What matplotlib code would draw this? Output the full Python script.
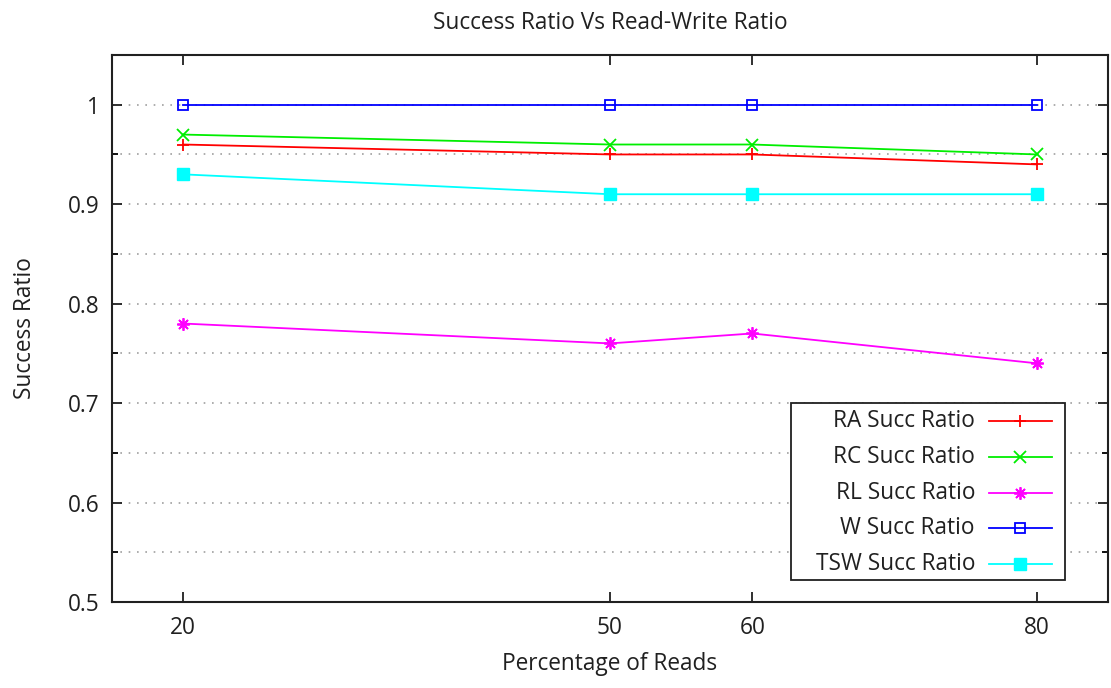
import matplotlib
matplotlib.use("Agg")
import matplotlib.pyplot as plt
from matplotlib.patches import Rectangle
from matplotlib.lines import Line2D
from matplotlib.ticker import MultipleLocator

plt.rcParams['font.family'] = ['Open Sans', 'DejaVu Sans']

reads = [20, 50, 60, 80]
ra_succ = [0.96, 0.95, 0.95, 0.94]
rc_succ = [0.97, 0.96, 0.96, 0.95]
rl_succ = [0.78, 0.76, 0.77, 0.74]
w_succ = [1.0, 1.0, 1.0, 1.0]
tsw_succ = [0.93, 0.91, 0.91, 0.91]

labels = ["RA Succ Ratio", "RC Succ Ratio", "RL Succ Ratio", "W Succ Ratio", "TSW Succ Ratio"]
series = [ra_succ, rc_succ, rl_succ, w_succ, tsw_succ]
styles = [
    dict(color="#ff0000", marker="+", markersize=9, markeredgewidth=1.3, markerfacecolor="none"),
    dict(color="#00ee00", marker="x", markersize=8, markeredgewidth=1.3, markerfacecolor="none"),
    dict(color="#ff00ff", marker=(8, 2, 0), markersize=9, markeredgewidth=1.3, markerfacecolor="none"),
    dict(color="#0000ff", marker="s", markersize=7.5, markeredgewidth=1.3, markerfacecolor="none"),
    dict(color="#00ffff", marker="s", markersize=8, markeredgewidth=1.0, markerfacecolor="#00ffff"),
]

FS = 16.3
TXT = "#202020"

fig = plt.figure(figsize=(11.11, 6.88), dpi=100)
ax = fig.add_axes([112 / 1111, 1 - 602 / 688, 996 / 1111, 547 / 688])

for vals, st in zip(series, styles):
    ax.plot(reads, vals, linewidth=1.3, zorder=3, **st)

ax.set_xlim(15, 85)
ax.set_ylim(0.5, 1.05)
ax.set_xticks(reads)
ax.yaxis.set_major_locator(MultipleLocator(0.1))
ax.yaxis.set_minor_locator(MultipleLocator(0.05))
ax.set_yticks([0.5, 0.6, 0.7, 0.8, 0.9, 1.0])
ax.set_yticklabels(["0.5", "0.6", "0.7", "0.8", "0.9", "1"])

ax.grid(True, axis="y", which="both", linestyle=(0, (1, 4)), color="#a0a0a0", linewidth=1.2, zorder=1)
ax.tick_params(axis="both", which="major", direction="in", length=7, width=1.3,
               top=True, right=True, labelsize=FS, colors=TXT)
ax.tick_params(axis="x", which="major", pad=10)
ax.tick_params(axis="y", which="major", pad=9)
ax.tick_params(axis="y", which="minor", direction="in", length=4, width=1.3, right=True)
for s in ax.spines.values():
    s.set_linewidth(1.5)
    s.set_color(TXT)

ax.set_title("Success Ratio Vs Read-Write Ratio", fontsize=FS, pad=19, color=TXT)
ax.set_xlabel("Percentage of Reads", fontsize=FS, labelpad=9, color=TXT)
ax.set_ylabel("Success Ratio", fontsize=FS, labelpad=22, color=TXT)

# key box in the lower right, text right-aligned before each sample line
bx0, bx1 = (791 - 112) / 996, (1065 - 112) / 996
by0, by1 = (602 - 580) / 547, (602 - 403) / 547
ax.add_patch(Rectangle((bx0, by0), bx1 - bx0, by1 - by0, transform=ax.transAxes,
                       facecolor="white", edgecolor=TXT, linewidth=1.3, zorder=4))
row_px = [421, 457, 493, 528, 564]
txt_x = (975 - 112) / 996
l0, l1 = (989 - 112) / 996, (1052 - 112) / 996
mx = (1020 - 112) / 996
for lab, st, py in zip(labels, styles, row_px):
    yy = (602 - py) / 547
    ax.text(txt_x, yy, lab, transform=ax.transAxes, ha="right", va="center",
            fontsize=FS, color=TXT, zorder=5)
    ax.add_line(Line2D([l0, l1], [yy, yy], transform=ax.transAxes, color=st["color"],
                       linewidth=1.3, zorder=5))
    mk = dict(st)
    mk.pop("color")
    ax.add_line(Line2D([mx], [yy], transform=ax.transAxes, color=st["color"],
                       linestyle="none", zorder=6, **mk))

fig.savefig("out.png", dpi=100)
